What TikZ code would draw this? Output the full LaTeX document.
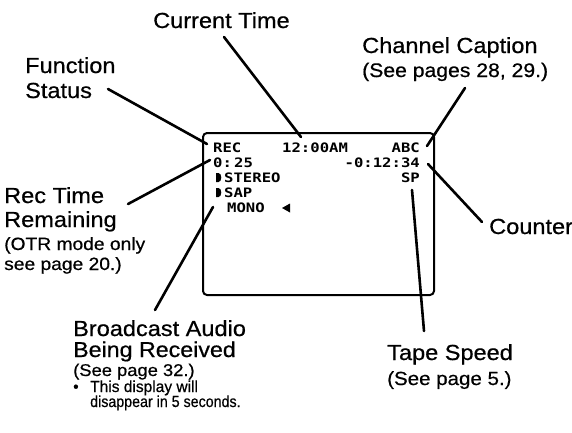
\documentclass[tikz,border=0pt]{standalone}
\usepackage{fontspec}
\setmainfont[FakeStretch=1.08,FakeBold=0.6]{Liberation Sans}
\newfontfamily\narrowA[FakeStretch=0.97,FakeBold=0.5]{Liberation Sans}
\newfontfamily\narrowB[FakeStretch=0.89,FakeBold=0.5]{Liberation Sans}
\newfontfamily\scrfont[FakeStretch=1.2]{DejaVu Sans Mono Bold}
\begin{document}
\begin{tikzpicture}[x=1pt,y=-1pt,
  lbl/.style={anchor=base west, inner sep=0pt, font=\fontsize{21.8}{24}\selectfont},
  sub/.style={anchor=base west, inner sep=0pt, font=\fontsize{19}{21}\selectfont},
  small/.style={anchor=base west, inner sep=0pt},
  scr/.style={inner sep=0pt, font=\scrfont\fontsize{13}{15}\selectfont},
  leader/.style={line width=2.6pt, line cap=round},
  screen/.style={line width=2pt, rounded corners=4pt}]
\useasboundingbox (0,0) rectangle (572,432);
\fill[white] (0,0) rectangle (572,432);

% screen frame
\draw[screen] (203,133) rectangle (434,295);

% screen texts
\node[scr, anchor=base west] (rec) at (213,152) {REC};
\node[scr, anchor=base west] (time) at (282,152) {12:00AM};
\node[scr, anchor=base east] (abc) at (420,152) {ABC};
\node[scr, anchor=base west] (remain) at (213,167) {0:\,25};
\node[scr, anchor=base east] (count) at (420,167) {-0:12:34};
\node[scr, anchor=base west] (stereo) at (224,182) {STEREO};
\node[scr, anchor=base east] (sp) at (420,182) {SP};
\node[scr, anchor=base west] (sap) at (224,197) {SAP};
\node[scr, anchor=base west] (mono) at (227,212) {MONO};
% markers
\fill (216,173) -- (218.5,173) arc (-90:90:2.8 and 4.5) -- (216,182) -- cycle;
\fill (216,188) -- (218.5,188) arc (-90:90:2.8 and 4.5) -- (216,197) -- cycle;
\fill (282,208) -- (290,203.5) -- (290,212.5) -- cycle;

% labels
\node[lbl] (ct) at (153,28) {Current Time};
\node[lbl] (fs1) at (25,73) {Function};
\node[lbl] (fs2) at (25,98) {Status};
\node[lbl] (cc1) at (362,53) {Channel Caption};
\node[sub, font=\fontsize{19.6}{22}\selectfont] (cc2) at (362,77) {(See pages 28, 29.)};
\node[lbl] (rt1) at (4,203) {Rec Time};
\node[lbl] (rt2) at (4,227) {Remaining};
\node[sub, font=\fontsize{17.8}{20}\selectfont] (rt3) at (4,250) {(OTR mode only};
\node[sub, font=\fontsize{17.8}{20}\selectfont] (rt4) at (4,270) {see page 20.)};
\node[lbl] (co) at (489,234) {Counter};
\node[lbl] (ts1) at (387,360) {Tape Speed};
\node[sub] (ts2) at (387,385) {(See page 5.)};
\node[lbl] (ba1) at (73,336) {Broadcast Audio};
\node[lbl, font=\fontsize{21.5}{24}\selectfont] (ba2) at (73,357) {Being Received};
\node[sub, font=\fontsize{17}{19}\selectfont] (ba3) at (73,376) {(See page 32.)};
\node[small, font=\narrowA\fontsize{16}{18}\selectfont] (bul) at (73,392) {\textbullet};
\node[small, font=\narrowA\fontsize{16}{18}\selectfont] (ba4) at (90,392) {This display will};
\node[small, font=\narrowB\fontsize{16}{18}\selectfont] (ba5) at (90,407) {disappear in 5 seconds.};

% leader end points
\coordinate (ctS) at (224,37);   \coordinate (ctE) at (301,137);
\coordinate (fsS) at (108,89);   \coordinate (fsE) at (207,144);
\coordinate (rtS) at (128,204);  \coordinate (rtE) at (210,160);
\coordinate (baS) at (155,310);  \coordinate (baE) at (213,207);
\coordinate (ccS) at (465,88);   \coordinate (ccE) at (427,146);
\coordinate (coS) at (482,222);  \coordinate (coE) at (428,164);
\coordinate (tsS) at (424,331);  \coordinate (tsE) at (412,190);

\draw[leader] (ctS) -- (ctE);
\draw[leader] (fsS) -- (fsE);
\draw[leader] (rtS) -- (rtE);
\draw[leader] (baS) -- (baE);
\draw[leader] (ccS) -- (ccE);
\draw[leader] (coS) -- (coE);
\draw[leader] (tsS) -- (tsE);
\end{tikzpicture}
\end{document}
